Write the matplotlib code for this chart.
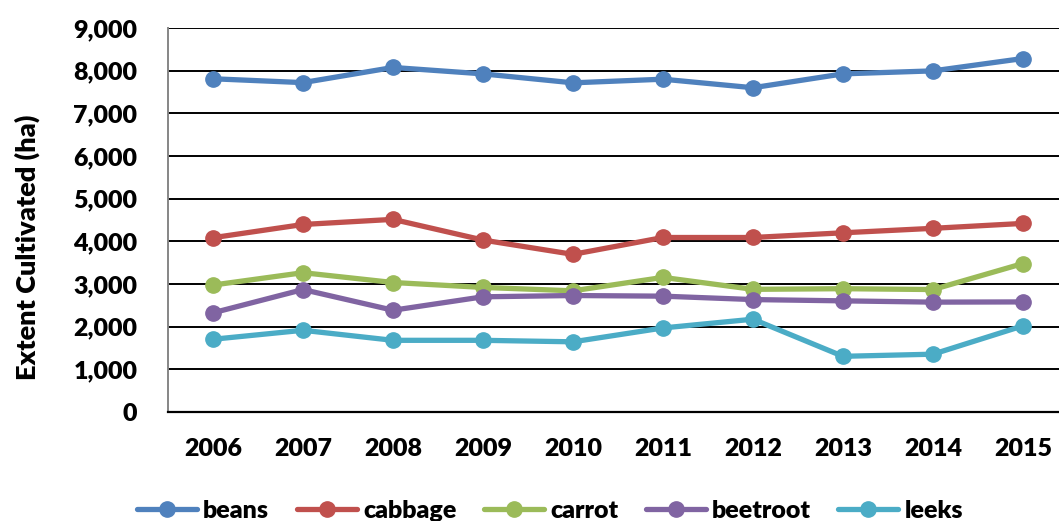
import matplotlib
matplotlib.use("Agg")
import matplotlib.pyplot as plt
from matplotlib.ticker import FuncFormatter

# chart data
years = ["2006", "2007", "2008", "2009", "2010", "2011", "2012", "2013", "2014", "2015"]
beans = [7810, 7720, 8075, 7925, 7715, 7800, 7600, 7925, 7995, 8285]
cabbage = [4085, 4395, 4515, 4030, 3695, 4090, 4090, 4200, 4305, 4420]
carrot = [2975, 3265, 3035, 2920, 2840, 3155, 2875, 2890, 2870, 3480]
beetroot = [2325, 2870, 2385, 2700, 2730, 2715, 2635, 2605, 2575, 2580]
leeks = [1705, 1915, 1680, 1680, 1645, 1970, 2175, 1305, 1355, 2020]

series = [
    ("beans", beans, "#4F81BD"),
    ("cabbage", cabbage, "#C0504D"),
    ("carrot", carrot, "#9BBB59"),
    ("beetroot", beetroot, "#8064A2"),
    ("leeks", leeks, "#4BACC6"),
]

WEIGHT = 'heavy'
plt.rcParams['font.family'] = ['Lato', 'DejaVu Sans']
plt.rcParams['font.weight'] = WEIGHT

W, H = 1059, 521
fig = plt.figure(figsize=(W / 100, H / 100), dpi=100)
ax = fig.add_axes([168 / W, 1 - 412 / H, 900 / W, (412 - 28) / H])

x = list(range(len(years)))
for name, vals, col in series:
    ax.plot(x, vals, color=col, lw=3.8, marker='o', ms=11,
            solid_capstyle='round', label=name, clip_on=False, zorder=3)

ax.set_xlim(-0.5, len(years) - 0.5)
ax.set_ylim(0, 9000)
ax.set_yticks(range(0, 9001, 1000))
ax.yaxis.set_major_formatter(FuncFormatter(lambda v, p: f"{int(v):,}"))
ax.set_xticks(x)
ax.set_xticklabels(years)
ax.tick_params(axis='both', length=0, labelsize=18)
ax.tick_params(axis='y', pad=22)
ax.tick_params(axis='x', pad=19)
for lab in ax.get_xticklabels() + ax.get_yticklabels():
    lab.set_fontweight(WEIGHT)

ax.grid(axis='y', color='black', lw=1.4, zorder=1)
ax.set_axisbelow(True)
for s in ['top', 'right']:
    ax.spines[s].set_visible(False)
ax.spines['left'].set_color('#868686')
ax.spines['left'].set_linewidth(1.4)
ax.spines['bottom'].set_color('black')
ax.spines['bottom'].set_linewidth(1.6)

fig.text(27 / W, 1 - 247 / H, "Extent Cultivated (ha)", rotation=90,
         ha='center', va='center', fontsize=19.5, fontweight=WEIGHT)

leg = fig.legend(loc='center', bbox_to_anchor=(550 / W, 1 - 511 / H), ncol=5,
                 frameon=False, fontsize=18, handlelength=2.4, handletextpad=0.25,
                 columnspacing=1.1, borderaxespad=0)
for t in leg.get_texts():
    t.set_fontweight(WEIGHT)

fig.savefig("out.png", dpi=100, facecolor='white')
